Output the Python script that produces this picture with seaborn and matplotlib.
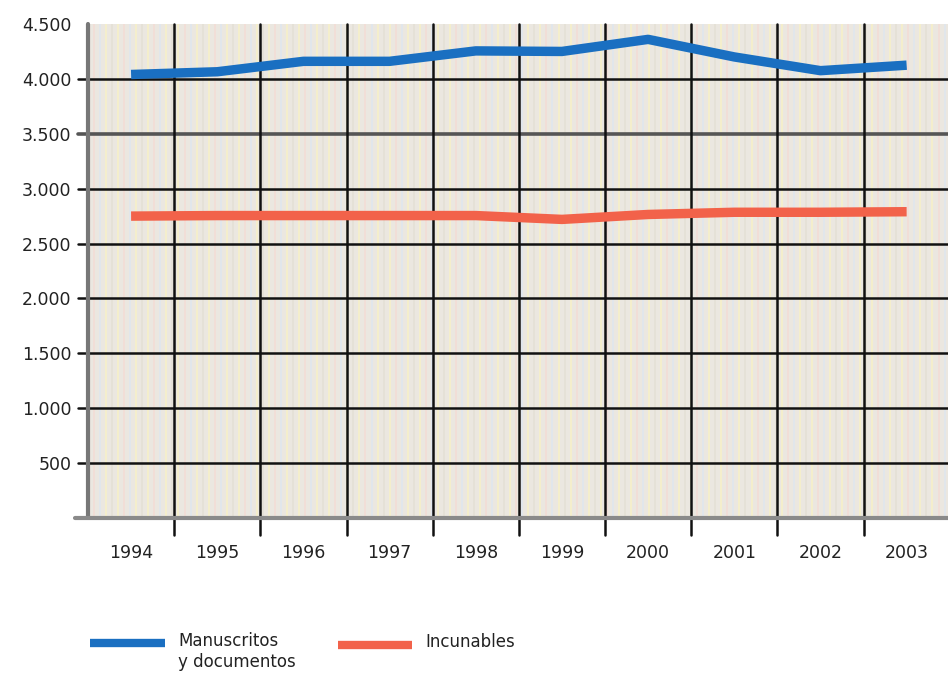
import numpy as np
import pandas as pd
import matplotlib
matplotlib.use("Agg")
import matplotlib.pyplot as plt
from matplotlib.lines import Line2D
import seaborn as sns

# datos
years = ["1994", "1995", "1996", "1997", "1998", "1999", "2000", "2001", "2002", "2003"]
manuscritos = [4040, 4065, 4160, 4160, 4255, 4250, 4360, 4200, 4075, 4125]
incunables = [2750, 2755, 2755, 2755, 2755, 2720, 2765, 2785, 2785, 2790]
y_ticks = [500, 1000, 1500, 2000, 2500, 3000, 3500, 4000, 4500]
y_labels = ["500", "1.000", "1.500", "2.000", "2.500", "3.000", "3.500", "4.000", "4.500"]
series_names = ["Manuscritos\ny documentos", "Incunables"]
colors = ["#1a6fc1", "#f2624a"]

df = pd.DataFrame({
    "pos": list(range(len(years))) * 2,
    "valor": manuscritos + incunables,
    "serie": [series_names[0]] * len(years) + [series_names[1]] * len(years),
})

sns.set_style("white")
plt.rcParams["font.family"] = ["DejaVu Sans"]

fig = plt.figure(figsize=(9.48, 6.75), dpi=100)
ax = fig.add_axes([88 / 948, 157 / 675, 1 - 88 / 948, (518 - 24) / 675])
ax.set_facecolor("#ebe7e0")

# textura de fondo (rayas palidas verticales)
stripe_cols = ["#f7f0c8", "#f3ddd6", "#dfe6ee", "#f7f0c8", "#e4e0d6"]
for i, xs in enumerate(np.arange(-0.5, 9.5, 0.07)):
    ax.axvline(xs, color=stripe_cols[i % len(stripe_cols)], lw=1.2, zorder=0.5)

# cuadricula gruesa
for v in y_ticks[:-1]:
    c = "#555555" if v == 3500 else "#111111"
    lw = 2.6 if v == 3500 else 1.8
    ax.axhline(v, xmin=-0.012, xmax=1, color=c, lw=lw, clip_on=False, zorder=1)
for b in np.arange(0.5, len(years) - 1, 1.0):
    ax.axvline(b, ymin=-0.035, ymax=1, color="#111111", lw=1.8, clip_on=False, zorder=1)
ax.axvline(-0.5, ymin=0, ymax=1, color="#777777", lw=3, clip_on=False, zorder=1)
ax.axhline(0, xmin=-0.015, xmax=1, color="#8a8a8a", lw=3, clip_on=False, zorder=1)

sns.lineplot(data=df, x="pos", y="valor", hue="serie", palette=colors,
             linewidth=6.8, legend=False, ax=ax, zorder=3)
for ln in ax.get_lines()[-2:]:
    ln.set_solid_joinstyle("round")
    ln.set_solid_capstyle("butt")

ax.set_xlim(-0.5, 9.48)
ax.set_ylim(0, 4500)
ax.set_xticks(range(len(years)))
ax.set_xticklabels(years, fontsize=12.5, color="#222222")
ax.set_yticks(y_ticks)
ax.set_yticklabels(y_labels, fontsize=12.5, color="#222222")
ax.tick_params(axis="x", length=0, pad=19)
ax.tick_params(axis="y", length=0, pad=12)
ax.set_xlabel("")
ax.set_ylabel("")
for s in ax.spines.values():
    s.set_visible(False)

# leyenda abajo
fig.add_artist(Line2D([90 / 948, 165 / 948], [0.0474, 0.0474], color=colors[0], lw=6,
                      solid_capstyle="butt"))
fig.text(178 / 948, 0.064, series_names[0], fontsize=12, va="top", ha="left",
         color="#222222", linespacing=1.25)
fig.add_artist(Line2D([338 / 948, 412 / 948], [0.0444, 0.0444], color=colors[1], lw=6,
                      solid_capstyle="butt"))
fig.text(425 / 948, 0.049, series_names[1], fontsize=12, va="center", ha="left",
         color="#222222")

fig.savefig("out.png", dpi=100)
